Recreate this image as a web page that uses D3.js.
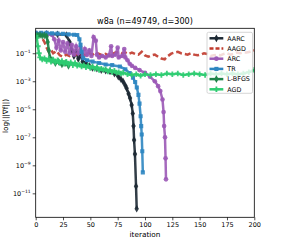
<!DOCTYPE html>
<html>
<head>
<meta charset="utf-8">
<script src="https://cdn.jsdelivr.net/npm/d3@7.9.0/dist/d3.min.js"></script>
<style>
  body { margin: 0; background: #fff; }
  text { font-family: "DejaVu Sans", sans-serif; fill: #000; }
</style>
</head>
<body>
<svg width="283" height="245"></svg>
<script>
// values are log10(||grad f||)
const xTicks = [0, 25, 50, 75, 100, 125, 150, 175, 200];
const yTickExps = [-1, -3, -5, -7, -9, -11];

const aarcIter = [0, 10, 20, 28, 31, 33, 35, 37, 39, 41, 43, 46, 49, 52, 56, 60, 64, 68, 72, 75.6, 78, 80, 82, 83.2, 85, 86.3, 87.8, 88.8, 89.5, 90, 90.8, 91.8, 92.4];
const aarcVal = [0.4, 0.38, 0.35, 0.3, -0.2, -0.8, -1.2, -0.9, -1.4, -1.1, -1.6, -1.7, -1.9, -2.05, -2.1, -2.2, -2.25, -2.3, -2.45, -2.67, -2.85, -3.02, -3.3, -3.5, -3.9, -4.2, -4.7, -5.3, -6.2, -7.2, -8.2, -10.5, -12.1];

const aagdIter = [0, 5, 8, 10, 12, 14, 16, 19, 22, 25, 28, 31, 34, 37, 40, 43, 46, 49, 52, 55, 58, 61, 64, 67, 70, 73, 76, 79, 82, 85, 88, 91, 94, 97, 100, 103, 106, 109, 112, 115, 118, 121, 124, 127, 130, 133, 136, 139, 142, 145, 148, 151, 154, 157, 160, 163, 166, 169, 172, 175, 178, 181, 184, 187, 190, 193, 196, 200];
const aagdVal = [0.35, 0.2, -0.2, -0.6, -0.9, -0.75, -1.0, -0.85, -1.15, -1.25, -1.1, -1.2, -1.05, -1.1, -0.95, -1.05, -1.15, -1.0, -1.1, -0.95, -1.05, -1.15, -1.05, -1.2, -1.05, -0.95, -0.9, -1.0, -0.95, -1.05, -0.95, -1.05, -1.1, -0.9, -1.15, -1.25, -1.15, -1.1, -1.25, -1.38, -1.43, -1.2, -1.03, -0.95, -0.9, -1.0, -1.05, -1.1, -1.0, -1.1, -1.15, -1.1, -1.0, -1.05, -1.2, -1.15, -1.1, -1.15, -1.05, -1.0, -1.1, -1.05, -0.95, -1.0, -0.95, -0.95, -0.9, -0.8];

const arcIter = [0, 5, 10, 15, 17, 19, 21, 23, 25, 27, 29, 31, 33, 35, 37, 39, 41, 43, 45, 47, 49, 51, 53, 55, 56, 58, 61, 64, 67, 69, 70, 73, 75, 76, 79, 81, 82, 84, 86, 88, 91, 95, 100, 104.6, 109, 112, 114, 116, 117, 117.5, 118.3, 118.8, 119.2];
const arcVal = [0.4, 0.38, 0.35, 0.3, 0.0, -0.6, -0.1, -0.8, -0.2, -0.9, -0.3, -1.0, -0.4, -1.1, -0.5, -1.0, -0.6, -1.2, -0.7, -1.1, -0.8, -1.2, 0.15, -0.1, -1.1, -1.3, -1.2, -1.3, -1.15, -0.5, -1.2, -1.1, -0.6, -1.3, -1.2, -0.7, -1.3, -1.5, -1.75, -1.9, -2.05, -2.2, -2.4, -2.67, -3.0, -3.35, -3.7, -4.3, -5.2, -6.2, -7.0, -8.5, -10.0];

const trIter = [0, 5, 10, 15, 20, 25, 30, 35, 38, 40, 41, 42, 43.5, 47, 52, 58, 64, 70, 77, 82, 86, 89, 91, 92.5, 94, 95, 96, 96.5, 97, 97.5, 98];
const trVal = [0.45, 0.45, 0.45, 0.42, 0.4, 0.38, 0.35, 0.32, 0.3, 0.0, -0.4, -0.9, -1.35, -1.5, -1.6, -1.7, -1.8, -1.85, -1.95, -2.15, -2.42, -2.75, -3.05, -3.45, -3.97, -4.6, -5.5, -6.2, -6.8, -8.0, -9.5];

const lbfgsIter = [0, 2, 4, 6, 8, 10, 11, 12, 13, 15, 18, 21, 24, 27, 30];
const lbfgsVal = [0.3, 0.28, 0.3, 0.25, 0.28, 0.2, -0.2, -0.8, -1.3, -1.5, -1.7, -1.6, -1.8, -1.7, -1.9];

const agdIter = [0, 1, 2, 3, 4, 6, 8, 10, 12, 14, 16, 18, 20, 22, 24, 26, 28, 30, 32, 34, 36, 38, 40, 42, 44, 46, 48, 50, 52, 54, 56, 58, 60, 62, 64, 66, 68, 70, 72, 74, 76, 78, 80, 84, 88, 92, 96, 100, 105, 110, 115, 120, 125, 130, 135, 140, 145, 150, 155, 160, 165, 170, 175, 180, 185, 190, 195, 200];
const agdVal = [0.25, 0.1, -0.5, -1.0, -1.3, -1.45, -1.35, -1.55, -1.4, -1.6, -1.45, -1.65, -1.5, -1.7, -1.55, -1.75, -1.6, -1.8, -1.65, -1.85, -1.7, -1.9, -1.8, -1.95, -1.85, -2.0, -1.9, -2.05, -1.95, -2.1, -2.0, -2.2, -2.1, -2.2, -2.15, -2.3, -2.2, -2.35, -2.25, -2.4, -2.35, -2.45, -2.4, -2.5, -2.55, -2.5, -2.6, -2.5, -2.55, -2.5, -2.55, -2.45, -2.5, -2.45, -2.55, -2.5, -2.45, -2.5, -2.55, -2.45, -2.5, -2.45, -2.5, -2.45, -2.5, -2.45, -2.35, -2.2];

const series = [
  { name: "AARC", iter: aarcIter, val: aarcVal, color: "#1c2833", symbol: d3.symbolDiamond, dash: null },
  { name: "AAGD", iter: aagdIter, val: aagdVal, color: "#c0392b", symbol: null, dash: "6,3" },
  { name: "ARC", iter: arcIter, val: arcVal, color: "#9b59b6", symbol: d3.symbolCircle, dash: null },
  { name: "TR", iter: trIter, val: trVal, color: "#2e86c1", symbol: d3.symbolSquare, dash: null },
  { name: "L-BFGS", iter: lbfgsIter, val: lbfgsVal, color: "#1e8449", symbol: d3.symbolDiamond, dash: null },
  { name: "AGD", iter: agdIter, val: agdVal, color: "#2ecc71", symbol: d3.symbolCross, dash: null }
];

const plotLeft = 35.7, plotRight = 254.3, plotTop = 28.3, plotBottom = 217.3;

const x = d3.scaleLinear().domain([0, 200]).range([plotLeft, plotRight]);
const y = d3.scaleLog().domain([Math.pow(10, -12.71), Math.pow(10, 0.78)]).range([plotBottom, plotTop]);

const svg = d3.select("svg");

svg.append("clipPath").attr("id", "plot")
  .append("rect").attr("x", plotLeft).attr("y", plotTop)
  .attr("width", plotRight - plotLeft).attr("height", plotBottom - plotTop);

const g = svg.append("g").attr("clip-path", "url(#plot)");

const line = d3.line()
  .x((d) => x(d[0]))
  .y((d) => y(Math.pow(10, d[1])));

series.forEach((s) => {
  const pts = d3.zip(s.iter, s.val);
  g.append("path")
    .attr("d", line(pts))
    .attr("fill", "none")
    .attr("stroke", s.color)
    .attr("stroke-width", 2.5)
    .attr("stroke-opacity", 0.9)
    .attr("stroke-dasharray", s.dash);
  if (s.symbol) {
    g.selectAll(null)
      .data(pts)
      .join("path")
      .attr("d", d3.symbol().type(s.symbol).size(17))
      .attr("transform", (d) => `translate(${x(d[0])},${y(Math.pow(10, d[1]))})`)
      .attr("fill", s.color)
      .attr("fill-opacity", 0.9);
  }
});

// axes
svg.append("g")
  .attr("transform", `translate(0,${plotBottom})`)
  .call(d3.axisBottom(x).tickValues(xTicks).tickSize(3).tickPadding(2))
  .call((a) => a.selectAll("text").attr("font-size", 6.5).attr("font-family", "DejaVu Sans"));

const yAxis = svg.append("g")
  .attr("transform", `translate(${plotLeft},0)`)
  .call(d3.axisLeft(y).tickValues(yTickExps.map((e) => Math.pow(10, e))).tickSize(3).tickFormat(""));

yAxis.selectAll(".tick").each(function (d, i) {
  const t = d3.select(this).append("text")
    .attr("x", -5).attr("dy", "0.32em")
    .attr("text-anchor", "end")
    .attr("font-size", 6.5)
    .attr("fill", "#000");
  t.append("tspan").text("10");
  t.append("tspan").attr("font-size", 4.5).attr("dy", -3).text("\u2212" + Math.abs(yTickExps[i]));
});

svg.selectAll(".domain").remove();
svg.append("rect")
  .attr("x", plotLeft).attr("y", plotTop)
  .attr("width", plotRight - plotLeft).attr("height", plotBottom - plotTop)
  .attr("fill", "none").attr("stroke", "#000").attr("stroke-width", 0.8);

svg.selectAll(".tick line").attr("stroke-width", 0.7);

// labels
svg.append("text")
  .attr("x", (plotLeft + plotRight) / 2).attr("y", 23.5)
  .attr("text-anchor", "middle").attr("font-size", 8.1)
  .text("w8a (n=49749, d=300)");

svg.append("text")
  .attr("x", (plotLeft + plotRight) / 2).attr("y", 237)
  .attr("text-anchor", "middle").attr("font-size", 7.3)
  .text("iteration");

svg.append("text")
  .attr("transform", "translate(8,116) rotate(-90)")
  .attr("text-anchor", "middle").attr("font-size", 7.3)
  .text("log(||\u2207f||)");

// legend
const legend = svg.append("g");
legend.append("rect")
  .attr("x", 207).attr("y", 32.3).attr("width", 45.5).attr("height", 61)
  .attr("rx", 1.5)
  .attr("fill", "#fff").attr("fill-opacity", 0.8)
  .attr("stroke", "#ccc").attr("stroke-width", 0.8);

series.forEach((s, i) => {
  const ly = 38.3 + i * 10.2;
  legend.append("line")
    .attr("x1", 209.5).attr("x2", 223.3).attr("y1", ly).attr("y2", ly)
    .attr("stroke", s.color).attr("stroke-width", 2.5)
    .attr("stroke-dasharray", s.dash ? "4,2" : null);
  if (s.symbol) {
    legend.append("path")
      .attr("d", d3.symbol().type(s.symbol).size(17))
      .attr("transform", `translate(216.4,${ly})`)
      .attr("fill", s.color);
  }
  legend.append("text")
    .attr("x", 227.3).attr("y", ly).attr("dy", "0.35em")
    .attr("font-size", 6.4)
    .text(s.name);
});
</script>
</body>
</html>
